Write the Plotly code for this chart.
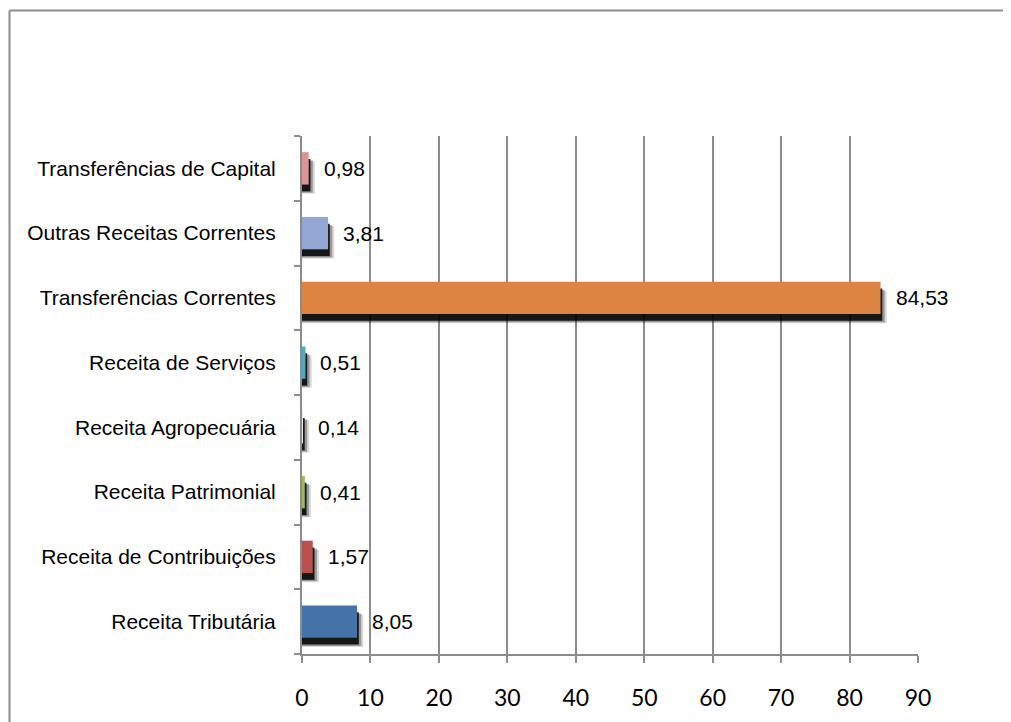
import plotly.graph_objects as go

categories = [
    "Receita Tributária",
    "Receita de Contribuições",
    "Receita Patrimonial",
    "Receita Agropecuária",
    "Receita de Serviços",
    "Transferências Correntes",
    "Outras Receitas Correntes",
    "Transferências de Capital",
]
values = [8.05, 1.57, 0.41, 0.14, 0.51, 84.53, 3.81, 0.98]
value_labels = ["8,05", "1,57", "0,41", "0,14", "0,51", "84,53", "3,81", "0,98"]
bar_colors = ["#4572A7", "#B9504D", "#9BBB59", "#EDEDED", "#4BACC6",
              "#DD8442", "#93A9D3", "#D99694"]
x_ticks = [0, 10, 20, 30, 40, 50, 60, 70, 80, 90]

GRID = "#8C8C8C"
BAR_W = 0.5

# figure-pixel geometry of the plotting area
ML, MT, PW, PH = 294, 128, 616, 518
W, H = 1011, 722

fig = go.Figure()

# soft shadow layers (drawn beneath bars)
shadow_layers = [
    (0.9, 0.14, 0.15),
    (0.6, 0.125, 0.30),
    (0.25, 0.105, 0.85),
]
for dx, dy, op in shadow_layers:
    fig.add_trace(go.Bar(
        y=categories, x=[v + dx for v in values], orientation="h",
        width=BAR_W, offset=-BAR_W / 2 - dy,
        marker=dict(color="black", line=dict(width=0)),
        opacity=op, hoverinfo="skip", showlegend=False,
    ))

fig.add_trace(go.Bar(
    y=categories, x=values, orientation="h",
    width=BAR_W, offset=-BAR_W / 2,
    marker=dict(color=bar_colors, line=dict(width=0)),
    showlegend=False,
))

for c, v, lab in zip(categories, values, value_labels):
    fig.add_annotation(
        x=v, y=c, text=lab, showarrow=False, xanchor="left", yanchor="middle",
        xshift=13, font=dict(family="Liberation Sans, Arial", size=21, color="black"),
    )

# outer chart border (left and top edges visible)
bx = (1.5 - ML) / PW
by = (MT + PH - 2.5) / PH
fig.add_shape(type="line", xref="paper", yref="paper",
              x0=bx, x1=bx, y0=by, y1=-0.3,
              line=dict(color="#8C8C8C", width=2), layer="below")
fig.add_shape(type="line", xref="paper", yref="paper",
              x0=bx, x1=1.3, y0=by, y1=by,
              line=dict(color="#8C8C8C", width=2), layer="below")

fig.update_layout(
    width=W, height=H,
    margin=dict(l=ML, r=W - ML - PW, t=MT, b=H - MT - PH),
    paper_bgcolor="white", plot_bgcolor="white",
    barmode="overlay", bargap=0.5,
    xaxis=dict(
        range=[0, 90], tickvals=x_ticks, ticktext=[str(t) for t in x_ticks],
        showgrid=True, gridcolor=GRID, gridwidth=2,
        showline=True, linecolor=GRID, linewidth=2,
        ticks="outside", ticklen=7, tickwidth=2, tickcolor=GRID,
        ticklabelstandoff=15,
        tickfont=dict(family="Lato, Open Sans, sans-serif", size=23, color="black"),
        zeroline=False, fixedrange=True,
    ),
    yaxis=dict(
        type="category", categoryorder="array", categoryarray=categories,
        range=[-0.5, 7.5],
        showgrid=False, showline=True, linecolor=GRID, linewidth=2,
        ticks="outside", ticklen=6, tickwidth=2, tickcolor=GRID,
        tickson="boundaries", ticklabelstandoff=20,
        tickfont=dict(family="Liberation Sans, Arial", size=21, color="black"),
        zeroline=False, fixedrange=True,
    ),
)

fig.write_html("out.html")
